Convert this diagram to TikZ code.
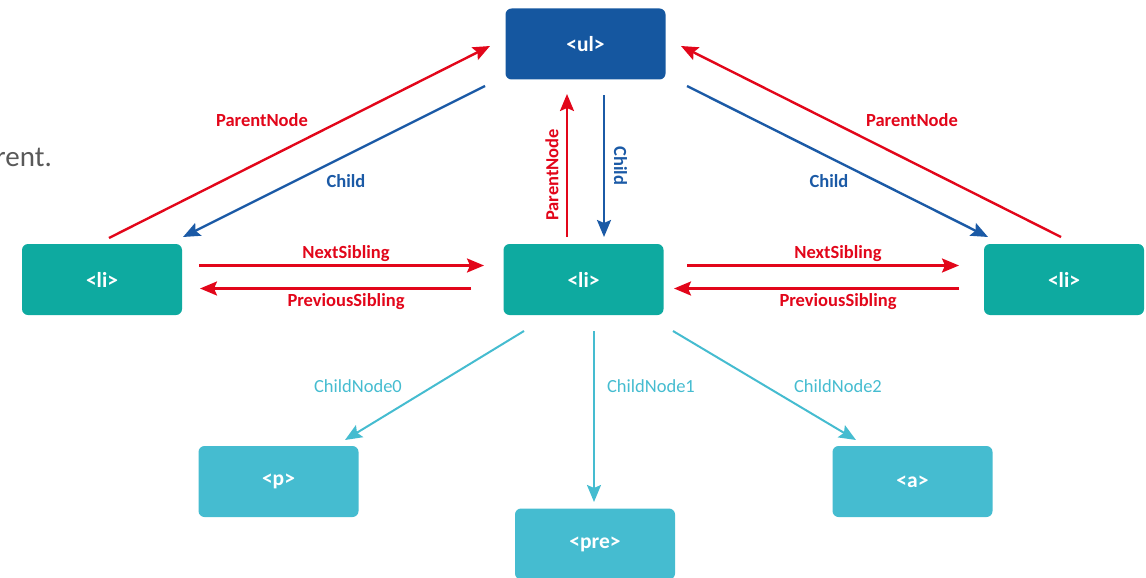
\documentclass[tikz,border=0pt]{standalone}
\usepackage{fontspec}
\setmainfont{Carlito}
\usetikzlibrary{arrows.meta}
\definecolor{cred}{RGB}{226,6,26}
\definecolor{cblue}{RGB}{27,90,166}
\definecolor{culbox}{RGB}{21,87,160}
\definecolor{cteal}{RGB}{14,170,160}
\definecolor{clight}{RGB}{69,188,208}
\definecolor{cgrey}{RGB}{89,89,89}
\tikzset{
  box/.style={rounded corners=6pt, minimum width=160pt, minimum height=71pt, inner sep=0pt, text=white, font=\fontsize{21.5}{26}\selectfont\bfseries},
  arr/.style={line width=2.4pt, -{Stealth[length=17pt,width=14pt,inset=3pt]}},
  redarr/.style={arr, draw=cred, fill=cred},
  bluearr/.style={arr, draw=cblue, fill=cblue},
  lightarr/.style={arr, draw=clight, fill=clight, line width=2pt},
  lbl/.style={inner sep=0pt, font=\fontsize{18.5}{22}\selectfont\bfseries},
  clbl/.style={inner sep=0pt, text=clight, font=\fontsize{18.5}{22}\selectfont},
}
\begin{document}
\begin{tikzpicture}[x=1pt,y=-1pt]
\useasboundingbox (0,0) rectangle (1146,578);
% boxes
\node[box, fill=culbox] (ul) at (585.5,44) {<ul>};
\node[box, fill=cteal] (liL) at (102,279.5) {<li>};
\node[box, fill=cteal] (liC) at (583.5,279.5) {<li>};
\node[box, fill=cteal] (liR) at (1064,279.5) {<li>};
\node[box, fill=clight] (p) at (278.5,481.5) {<p>};
\node[box, fill=clight] (pre) at (595,544) {<pre>};
\node[box, fill=clight] (a) at (912.5,481.5) {<a>};
% partial text
\node[anchor=base east, inner sep=0pt, text=cgrey, font=\fontsize{29}{34}\selectfont] (frag) at (52,166) {rent.};
% arrow end points
\coordinate (lpS) at (109,238);  \coordinate (lpE) at (490,46);
\coordinate (lcS) at (485,86);   \coordinate (lcE) at (183,237);
\coordinate (lnS) at (199,265.5);  \coordinate (lnE) at (484,265.5);
\coordinate (lsS) at (471,288.5);  \coordinate (lsE) at (200,288.5);
\coordinate (cpS) at (567,237);  \coordinate (cpE) at (567,94);
\coordinate (ccS) at (604,95);   \coordinate (ccE) at (604,237);
\coordinate (rpS) at (1061,237); \coordinate (rpE) at (681,46);
\coordinate (rcS) at (687,86);   \coordinate (rcE) at (988,237);
\coordinate (rnS) at (687,265.5);  \coordinate (rnE) at (959,265.5);
\coordinate (rsS) at (959,288.5);  \coordinate (rsE) at (674,288.5);
\coordinate (k0S) at (524,331);  \coordinate (k0E) at (345,440);
\coordinate (k1S) at (594,331);  \coordinate (k1E) at (594,502);
\coordinate (k2S) at (673,331);  \coordinate (k2E) at (856,440);
% arrows
\draw[redarr] (lpS) -- (lpE);
\draw[bluearr] (lcS) -- (lcE);
\draw[redarr] (lnS) -- (lnE);
\draw[redarr] (lsS) -- (lsE);
\draw[redarr] (cpS) -- (cpE);
\draw[bluearr] (ccS) -- (ccE);
\draw[redarr] (rpS) -- (rpE);
\draw[bluearr] (rcS) -- (rcE);
\draw[redarr] (rnS) -- (rnE);
\draw[redarr] (rsS) -- (rsE);
\draw[lightarr] (k0S) -- (k0E);
\draw[lightarr] (k1S) -- (k1E);
\draw[lightarr] (k2S) -- (k2E);
% labels
\node[lbl, text=cred] (t1) at (262,120) {ParentNode};
\node[lbl, text=cblue] (t2) at (346,181.5) {Child};
\node[lbl, text=cred] (t3) at (346,254) {NextSibling};
\node[lbl, text=cred] (t4) at (346,302) {PreviousSibling};
\node[lbl, text=cred, rotate=90] (t5) at (552,175) {ParentNode};
\node[lbl, text=cblue, rotate=-90] (t6) at (620.5,166) {Child};
\node[lbl, text=cred] (t7) at (912,120) {ParentNode};
\node[lbl, text=cblue] (t8) at (829,181.5) {Child};
\node[lbl, text=cred] (t9) at (838,254) {NextSibling};
\node[lbl, text=cred] (t10) at (838,302) {PreviousSibling};
\node[clbl] (t11) at (358,386) {ChildNode0};
\node[clbl] (t12) at (651,386) {ChildNode1};
\node[clbl] (t13) at (838,386) {ChildNode2};
\end{tikzpicture}
\end{document}
